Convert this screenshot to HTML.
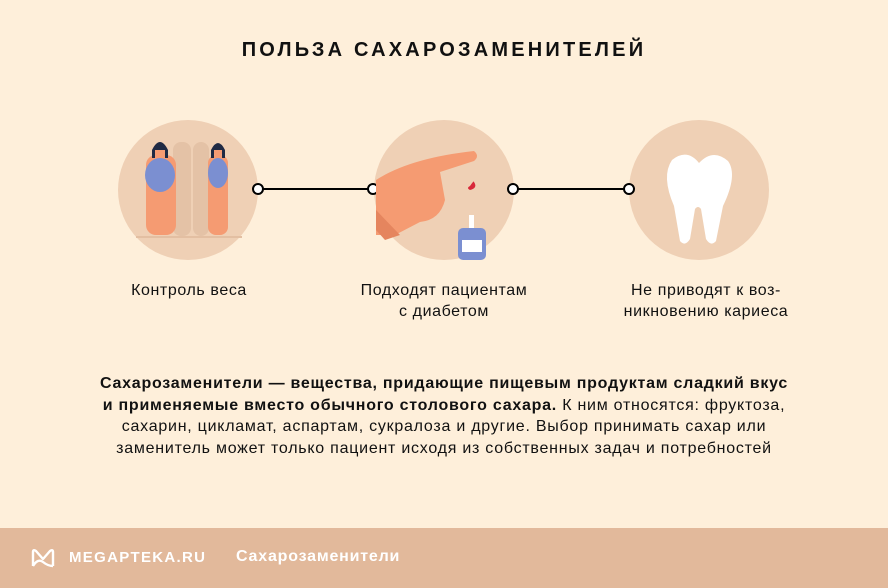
<!DOCTYPE html><html><head><meta charset="utf-8"><style>
body{margin:0;width:888px;height:588px;background:#FEEFDA;font-family:"Liberation Sans",sans-serif;position:relative;overflow:hidden;color:#111}
.t{position:absolute;top:39px;left:0;width:888px;text-align:center;font-weight:bold;font-size:20px;letter-spacing:3.2px}
.c{position:absolute;width:140px;height:140px;border-radius:50%;background:#EFD0B5;top:120px}
.l{position:absolute;font-size:16px;letter-spacing:0.6px;text-align:center;width:240px;line-height:21px}
.p{position:absolute;top:373px;left:24px;width:840px;text-align:center;font-size:16px;letter-spacing:0.75px;line-height:21.5px}
.f{position:absolute;top:528px;left:0;width:888px;height:60px;background:#E2B99B;color:#fff;font-weight:bold}
</style></head><body>
<div class="t">ПОЛЬЗА САХАРОЗАМЕНИТЕЛЕЙ</div>
<div class="c" style="left:118px"></div>
<div class="c" style="left:374px"></div>
<div class="c" style="left:629px"></div>
<svg width="888" height="588" style="position:absolute;left:0;top:0">
<line x1="258" y1="189" x2="373" y2="189" stroke="#000" stroke-width="2"/>
<line x1="513" y1="189" x2="629" y2="189" stroke="#000" stroke-width="2"/>
<g fill="#fff" stroke="#000" stroke-width="2"><circle cx="258" cy="189" r="5"/><circle cx="373" cy="189" r="5"/><circle cx="513" cy="189" r="5"/><circle cx="629" cy="189" r="5"/></g>
<line x1="136" y1="237" x2="242" y2="237" stroke="#E3BFA2" stroke-width="2"/>
<g fill="#E4C2A6"><rect x="173" y="142" width="18" height="94" rx="8"/><rect x="193" y="142" width="16" height="94" rx="8"/></g>
<g><rect x="146" y="155" width="30" height="80" rx="10" fill="#F59B72"/><ellipse cx="160" cy="175" rx="15" ry="17" fill="#7B8FD1"/><circle cx="160" cy="150" r="7" fill="#F59B72"/><path d="M152 150 q8 -16 16 0 v8 h-3 v-8 h-10 v8 h-3z" fill="#1F2A44"/></g>
<g><rect x="208" y="155" width="20" height="80" rx="8" fill="#F59B72"/><ellipse cx="218" cy="173" rx="10" ry="15" fill="#7B8FD1"/><circle cx="218" cy="150" r="6" fill="#F59B72"/><path d="M211 150 q7 -14 14 0 v8 h-3 v-8 h-8 v8 h-3z" fill="#1F2A44"/></g>
<path d="M376 180 Q410 158 474 151 Q480 156 474 161 L440 172 L445 200 Q440 220 420 222 L395 235 L376 235z" fill="#F59B72"/>
<path d="M376 210 L400 235 L385 240 L376 230z" fill="#E5855E"/>
<path d="M470 186 q4 -6 4 -4 q4 6 -4 8 q-4 -2 0 -4z" fill="#D8283A"/>
<rect x="458" y="228" width="28" height="32" rx="5" fill="#7B8FD1"/><rect x="462" y="240" width="20" height="12" fill="#fff"/><rect x="469" y="215" width="5" height="13" fill="#fff"/>
<path d="M672 160 q15 -12 27 3 q14 -15 29 -2 q10 14 -5 45 l-7 35 q-5 6 -10 -2 l-5 -30 q-3 -4 -6 0 l-5 30 q-5 8 -10 2 l-6 -35 q-13 -30 -2 -46z" fill="#fff"/>
</svg>
<div class="l" style="left:69px;top:280px">Контроль веса</div>
<div class="l" style="left:324px;top:280px">Подходят пациентам<br>с диабетом</div>
<div class="l" style="left:586px;top:280px">Не приводят к воз-<br>никновению кариеса</div>
<div class="p"><b>Сахарозаменители — вещества, придающие пищевым продуктам сладкий вкус<br>и применяемые вместо обычного столового сахара.</b> К ним относятся: фруктоза,<br>сахарин, цикламат, аспартам, сукралоза и другие. Выбор принимать сахар или<br>заменитель может только пациент исходя из собственных задач и потребностей</div>
<div class="f">
<svg width="26" height="22" style="position:absolute;left:30px;top:19px"><path d="M3 19 V5 q0-3 3-1 L13 12 L20 4 q3-2 3 1 V19 M3 19 q5-8 10 -4 q5 4 10 4" fill="none" stroke="#fff" stroke-width="2.4" stroke-linejoin="round"/></svg>
<div style="position:absolute;left:69px;top:21px;font-size:15px;letter-spacing:1.3px">MEGAPTEKA.RU</div>
<div style="position:absolute;left:236px;top:20px;font-size:16px;letter-spacing:0.8px">Сахарозаменители</div>
</div>
</body></html>
